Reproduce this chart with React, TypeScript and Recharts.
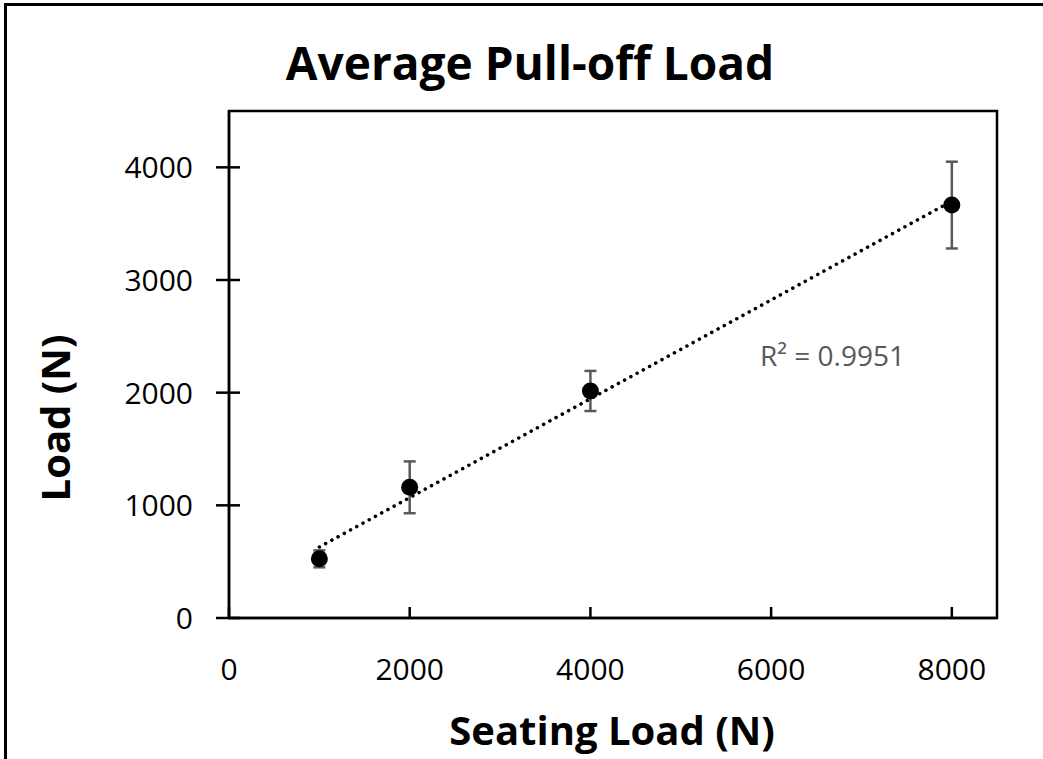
import React from 'react';
import { ScatterChart, Scatter, XAxis, YAxis, ErrorBar, ReferenceArea } from 'recharts';

const seatingLoads = [1000, 2000, 4000, 8000];
const pullOffLoads = [525, 1160, 2015, 3665];
const errorAmounts = [75, 230, 178, 385];
const trendX = [1000, 8000];
const trendY = [630, 3700];
const xTicks = [0, 2000, 4000, 6000, 8000];
const yTicks = [0, 1000, 2000, 3000, 4000];

const points = seatingLoads.map((x, i) => ({ x, y: pullOffLoads[i], err: errorAmounts[i] }));
const trend = trendX.map((x, i) => ({ x, y: trendY[i] }));

const FONT = '"Open Sans", sans-serif';

const renderYTick = (props: any) => {
  const { x, y, payload } = props;
  return (
    <g key={`yt-${payload.value}`}>
      <line x1={x - 13} x2={x + 11} y1={y} y2={y} stroke="#000" strokeWidth={2.5} />
      <text x={x - 36} y={y + 11} textAnchor="end" fontFamily={FONT} fontSize={30} fill="#000">
        {payload.value}
      </text>
    </g>
  );
};

const renderXTick = (props: any) => {
  const { x, y, payload } = props;
  return (
    <g key={`xt-${payload.value}`}>
      <line x1={x} x2={x} y1={y} y2={y - 11} stroke="#000" strokeWidth={2.5} />
      <text x={x} y={y + 62} textAnchor="middle" fontFamily={FONT} fontSize={30} fill="#000">
        {payload.value}
      </text>
    </g>
  );
};

const Dot = (props: any) => {
  const { cx, cy } = props;
  return <circle cx={cx} cy={cy} r={8.5} fill="#000" />;
};

export default function App() {
  return (
    <div style={{ position: 'absolute', left: 0, top: 0, width: 1043, height: 759, background: '#fff', overflow: 'hidden' }}>
      <div style={{ position: 'absolute', left: 4, top: 3, width: 1043, height: 759, borderLeft: '3px solid #000', borderTop: '3px solid #000' }} />
      <ScatterChart width={1043} height={759} margin={{ top: 111, right: 46, bottom: 140, left: 228 }} style={{ position: 'absolute', left: 0, top: 0 }}>
        <XAxis
          type="number"
          dataKey="x"
          domain={[0, 8500]}
          ticks={xTicks}
          interval={0}
          height={1}
          tickSize={0}
          tickMargin={0}
          tickLine={false}
          axisLine={{ stroke: '#000', strokeWidth: 2.5 }}
          tick={renderXTick}
          allowDataOverflow
        />
        <YAxis
          type="number"
          dataKey="y"
          domain={[0, 4500]}
          ticks={yTicks}
          interval={0}
          width={1}
          tickSize={0}
          tickMargin={0}
          tickLine={false}
          axisLine={{ stroke: '#000', strokeWidth: 2.5 }}
          tick={renderYTick}
          allowDataOverflow
        />
        <ReferenceArea x1={0} x2={8500} y1={0} y2={4500} fill="none" fillOpacity={0} stroke="#000" strokeWidth={2.5} strokeOpacity={1} />
        <Scatter
          data={trend}
          isAnimationActive={false}
          line={{ stroke: '#000', strokeWidth: 3.5, strokeDasharray: '0.1 7', strokeLinecap: 'round' }}
          shape={() => <g />}
        />
        <Scatter data={points} isAnimationActive={false} shape={<Dot />}>
          <ErrorBar dataKey="err" direction="y" width={6} stroke="#595959" strokeWidth={2.5} isAnimationActive={false} />
        </Scatter>
      </ScatterChart>
      <svg width={1043} height={759} style={{ position: 'absolute', left: 0, top: 0, pointerEvents: 'none' }}>
        <text x={530} y={80} textAnchor="middle" fontFamily={FONT} fontWeight={700} fontSize={46} fill="#000">
          Average Pull-off Load
        </text>
        <text x={612} y={745} textAnchor="middle" fontFamily={FONT} fontWeight={700} fontSize={40} fill="#000">
          Seating Load (N)
        </text>
        <text transform="translate(70, 418) rotate(-90)" textAnchor="middle" fontFamily={FONT} fontWeight={700} fontSize={40} fill="#000">
          Load (N)
        </text>
        <text x={760} y={366} fontFamily={FONT} fontSize={28} fill="#595959">
          R² = 0.9951
        </text>
      </svg>
    </div>
  );
}
